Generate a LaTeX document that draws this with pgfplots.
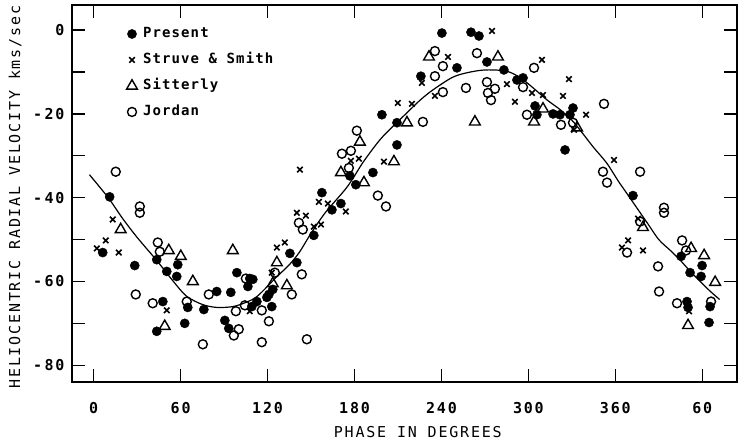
\documentclass[border=0pt]{standalone}
\usepackage{pgfplots}
\pgfplotsset{compat=1.18}
\usepackage{fontspec}
\newfontfamily\lettr[LetterSpace=12]{DejaVu Sans Mono}
\newfontfamily\legf[LetterSpace=8]{DejaVu Sans Mono}
\begin{document}
\begin{tikzpicture}
\begin{axis}[
 name=ax, at={(0,0)}, anchor=south west,
 scale only axis, width=665pt, height=377pt,
 xmin=-15, xmax=444, ymin=-84, ymax=6,
 xtick={0,60,...,420}, xticklabels={0,60,120,180,240,300,360,60},
 ytick={-80,-60,-40,-20,0}, yticklabels={-\,80,-\,60,-\,40,-\,20,0},
 minor ytick={-70,-50,-30,-10},
 major tick length=13pt, minor tick length=13pt,
 tick style={line width=1.3pt,black},
 axis line style={line width=1.9pt},
 tick label style={font=\lettr\bfseries\fontsize{15}{18}\selectfont},
 xticklabel style={yshift=-17pt},
 yticklabel style={xshift=-4pt},
 xlabel={PHASE IN DEGREES},
 ylabel={HELIOCENTRIC RADIAL VELOCITY kms/sec},
 label style={font=\lettr\fontsize{15}{18}\selectfont},
 xlabel style={at={(axis description cs:0.52,-0.1326)}, anchor=center},
 ylabel style={at={(axis description cs:-0.0857,0.49)}, anchor=center},
 legend style={at={(axis cs:20.5,1.4)}, anchor=north west, draw=none, fill=none,
   font=\legf\bfseries\fontsize{14}{16}\selectfont, row sep=11pt,
   nodes={inner sep=1pt, text height=10pt, text depth=3pt}},
 legend cell align=left,
 legend image code/.code={\path[draw=none,fill=none] (-5pt,-1pt) rectangle (10pt,1pt); \draw[#1] plot coordinates {(0pt,0pt)};},
 clip=false,
]
\addplot[only marks, mark=*, mark size=4.6pt, black] coordinates {
(11.0,-39.8) (6.2,-53.1) (28.3,-56.2) (43.5,-54.8) (50.4,-57.6) (57.3,-58.8)
(58.0,-56.0) (47.7,-64.8) (43.5,-71.9) (62.8,-70.0) (64.9,-66.2) (76.0,-66.7)
(84.9,-62.4) (94.6,-62.6) (98.8,-57.9) (107.7,-59.3) (109.8,-59.5) (106.4,-61.2)
(90.5,-69.3) (93.2,-71.2) (109.1,-66.0) (112.6,-64.8) (119.5,-63.8) (122.9,-66.0)
(120.9,-63.1) (123.6,-61.9) (135.4,-53.3) (140.2,-55.5) (151.9,-49.0) (157.5,-38.8)
(164.4,-42.9) (170.6,-41.4) (180.9,-36.9) (176.8,-34.8) (192.7,-34.0) (209.3,-27.4)
(198.9,-20.2) (209.3,-22.1) (225.8,-11.0) (240.3,-0.7) (250.7,-9.0) (260.4,-0.5)
(265.9,-1.4) (271.4,-7.6) (283.1,-9.5) (292.1,-11.9) (296.3,-11.4) (304.6,-18.1)
(305.9,-20.2) (317.0,-20.0) (321.8,-20.2) (330.8,-18.6) (328.7,-20.2) (325.3,-28.6)
(372.2,-39.5) (405.4,-54.0) (419.9,-56.2) (411.6,-57.9) (419.2,-58.8) (409.5,-64.8)
(410.2,-66.2) (425.4,-66.0) (424.7,-69.8)
};
\addlegendentry{Present}
\addplot[only marks, mark=x, mark size=3.9pt, line width=1.6pt, black] coordinates {
(13.1,-45.2) (8.3,-50.2) (2.1,-52.1) (17.3,-53.1) (50.4,-66.9) (107.7,-67.1)
(126.4,-51.9) (131.9,-50.7) (122.9,-57.9) (142.3,-33.3) (140.2,-43.6) (146.4,-44.3)
(151.9,-46.9) (156.8,-46.4) (155.4,-41.0) (161.6,-41.4) (174.0,-43.3) (177.5,-31.2)
(183.0,-30.7) (200.3,-31.4) (209.9,-17.4) (219.6,-17.6) (226.5,-12.6) (244.5,-6.4)
(235.5,-15.7) (274.9,-0.2) (285.2,-12.9) (290.7,-17.1) (302.5,-15.0) (309.4,-7.1)
(310.1,-15.5) (328.0,-11.7) (323.9,-15.7) (339.8,-20.2) (331.5,-23.8) (359.1,-31.0)
(375.7,-45.0) (368.8,-50.2) (364.6,-51.9) (379.1,-52.6) (410.9,-67.1)
};
\addlegendentry{Struve \& Smith}
\addplot[only marks, mark=triangle, mark size=6.2pt, line width=1.4pt, black] coordinates {
(18.6,-47.6) (49.0,-70.7) (51.8,-52.6) (60.1,-54.0) (68.4,-60.0) (96.0,-52.6)
(123.6,-60.5) (126.4,-55.5) (133.3,-61.0) (170.6,-34.0) (183.7,-26.7) (186.5,-36.4)
(207.2,-31.4) (216.2,-22.1) (231.4,-6.4) (263.1,-21.9) (279.0,-6.4) (310.1,-18.8)
(303.9,-21.9) (333.6,-23.3) (379.1,-47.1) (412.3,-52.1) (421.3,-53.8) (428.9,-60.2)
(410.2,-70.5)
};
\addlegendentry{Sitterly}
\addplot[only marks, mark=o, mark size=4.5pt, line width=1.4pt, black] coordinates {
(15.2,-33.8) (31.8,-42.1) (31.8,-43.6) (29.0,-63.1) (40.7,-65.2) (44.2,-50.7)
(45.6,-52.9) (64.2,-64.8) (75.3,-75.0) (79.4,-63.1) (105.0,-59.3) (100.1,-71.4)
(96.7,-72.9) (98.1,-67.1) (104.3,-65.7) (116.0,-66.9) (120.9,-69.5) (116.0,-74.5)
(125.0,-57.9) (136.7,-63.1) (143.6,-58.3) (147.1,-73.8) (144.3,-47.6) (141.6,-46.0)
(181.6,-24.0) (171.3,-29.5) (177.5,-28.8) (176.1,-32.9) (196.1,-39.5) (201.7,-42.1)
(227.2,-21.9) (235.5,-5.0) (241.0,-8.6) (235.5,-11.0) (241.0,-14.8) (256.9,-13.8)
(264.5,-5.5) (271.4,-12.4) (276.9,-14.0) (272.1,-15.0) (274.2,-16.7) (296.3,-13.6)
(303.9,-9.0) (299.0,-20.2) (322.5,-22.6) (330.8,-22.1) (352.2,-17.6) (351.5,-33.8)
(354.3,-36.4) (377.1,-33.8) (393.6,-42.4) (393.6,-43.6) (377.1,-45.7) (368.1,-53.1)
(389.5,-56.4) (390.2,-62.4) (406.1,-50.2) (408.8,-52.6) (402.6,-65.2) (426.1,-64.8)
};
\addlegendentry{Jordan}
\addplot[black, line width=1.2pt, smooth, forget plot] coordinates {
(-3,-34.5) (10,-40) (20,-45) (30,-49.5) (43.5,-55) (55,-60) (64,-63.5) (75,-65.5)
(85,-66.2) (96,-66) (105,-65) (113,-63.5) (126,-59) (135,-56) (142,-53) (150,-48.5)
(160,-43.5) (175,-37.4) (186,-31.5) (197.5,-26.2) (207,-22.8) (216,-19.8) (225,-16.8)
(234,-14.3) (248,-11.2) (260,-10) (271,-9.5) (285,-9.8) (295,-11.5) (305,-14.3)
(313,-16.7) (322,-19) (330,-21.5) (336,-24) (345,-28) (354,-31.7) (362,-36) (368,-39)
(375,-42.5) (382,-46) (390,-50) (398,-52.6) (405,-55) (412,-57.7) (420,-60.5)
(426,-62.5) (432,-64.3)
};
\end{axis}
\pgfresetboundingbox
\path[use as bounding box] (-72pt,-61pt) rectangle (667pt,382pt);
\end{tikzpicture}
\end{document}
